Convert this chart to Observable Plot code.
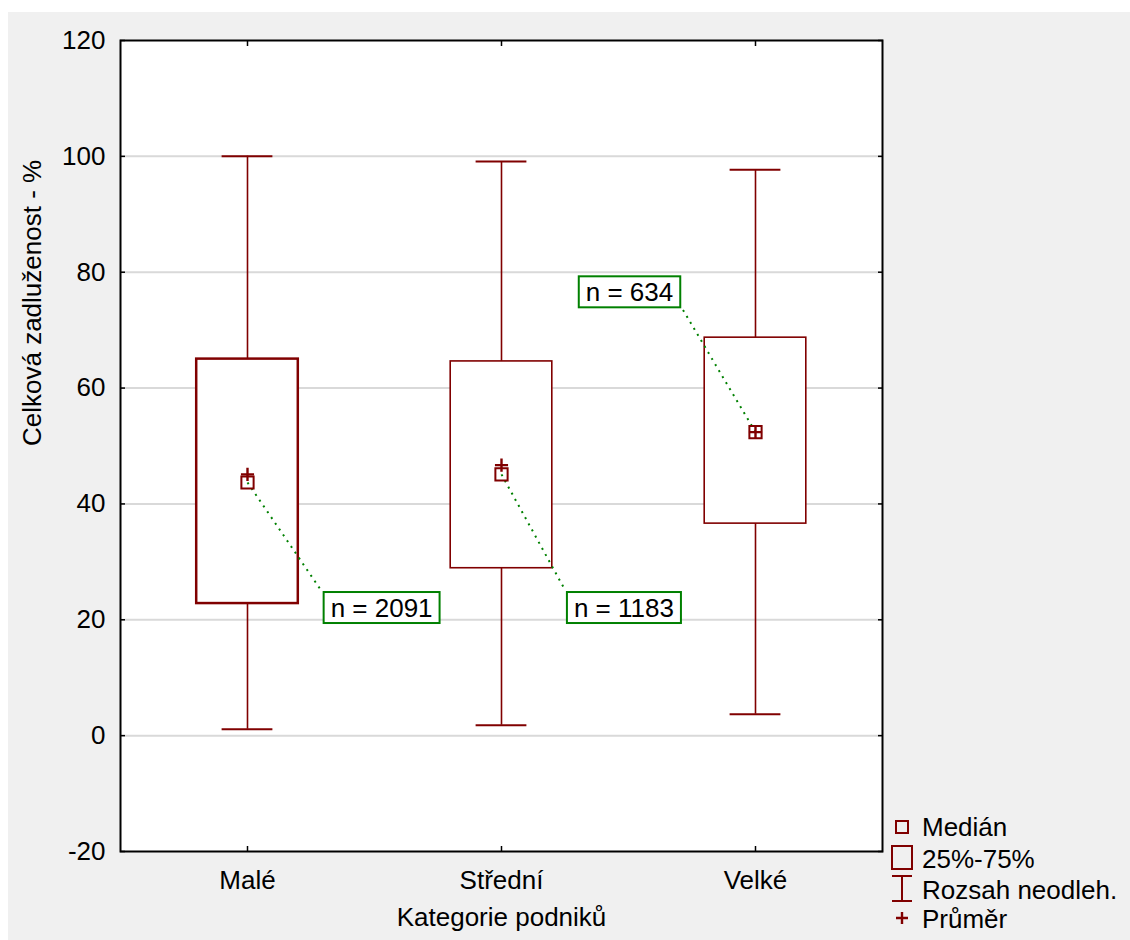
<!DOCTYPE html>
<html>
<head>
<meta charset="utf-8">
<script src="https://cdn.jsdelivr.net/npm/d3@7"></script>
<script src="https://cdn.jsdelivr.net/npm/@observablehq/plot@0.6"></script>
<style>
  body { margin: 0; background: #ffffff; font-family: Arial, "Liberation Sans", sans-serif; }
  #wrap { position: absolute; left: 8px; top: 12px; width: 1122px; height: 928px; background: #f0f0f0; }
  .lg { position: absolute; font-size: 26px; line-height: 30px; color: #000; white-space: nowrap; }
  .lgi { position: absolute; }
</style>
</head>
<body>
<div id="wrap"><div id="chart"></div></div>
<div id="legend"></div>
<script>
// ---- data ----
const categories  = ["Malé", "Střední", "Velké"];
const whiskerLow  = [1.1, 1.8, 3.7];
const quart25     = [22.8, 28.9, 36.6];
const medians     = [43.7, 45.1, 52.4];
const means       = [45.1, 46.7, 52.4];
const quart75     = [65.0, 64.6, 68.7];
const whiskerHigh = [100, 99.1, 97.7];
const counts      = [2091, 1183, 634];
const yTicks      = [-20, 0, 20, 40, 60, 80, 100, 120];
const gridValues  = [0, 20, 40, 60, 80, 100];
const legendItems = ["Medián", "25%-75%", "Rozsah neodleh.", "Průměr"];
const yTitle = "Celková zadluženost - %";
const xTitle = "Kategorie podniků";

// annotation placement (category index units / data units)
const noteX     = [0.528, 1.482, 1.504];
const noteY     = [22.0, 22.0, 76.5];
const leaderX   = [0.291, 1.252, 1.709];
const leaderY   = [25.0, 25.0, 73.9];

const RED = "#800000", GREEN = "#008000";

const rows = categories.map((c, i) => ({
  i, cat: c, lo: whiskerLow[i], q1: quart25[i], med: medians[i], mean: means[i],
  q3: quart75[i], hi: whiskerHigh[i], n: counts[i],
  tx: noteX[i], ty: noteY[i], lx: leaderX[i], ly: leaderY[i]
}));

const plusSymbol = {
  draw(ctx, size) {
    const h = Math.sqrt(size) / 2;
    ctx.moveTo(-h, 0); ctx.lineTo(h, 0);
    ctx.moveTo(0, -h); ctx.lineTo(0, h);
  }
};

const boxHalf = 0.2, capHalf = 0.1;
const idx = categories.map((c, i) => i);

const chart = Plot.plot({
  width: 1122, height: 928,
  marginLeft: 112, marginTop: 28, marginRight: 248, marginBottom: 89,
  style: { background: "transparent", fontFamily: "Arial, 'Liberation Sans', sans-serif", fontSize: "26px", color: "#000" },
  x: { type: "linear", domain: [-0.5, 2.5] },
  y: { domain: [-20, 120] },
  marks: [
    Plot.frame({ fill: "white", stroke: "none" }),
    Plot.ruleY(gridValues, { stroke: "#d9d9d9", strokeWidth: 2 }),
    // whiskers
    Plot.ruleX(rows, { x: "i", y1: "lo", y2: "hi", stroke: RED, strokeWidth: 1.6 }),
    Plot.ruleY(rows, { y: "lo", x1: d => d.i - capHalf, x2: d => d.i + capHalf, stroke: RED, strokeWidth: 2 }),
    Plot.ruleY(rows, { y: "hi", x1: d => d.i - capHalf, x2: d => d.i + capHalf, stroke: RED, strokeWidth: 2 }),
    // boxes
    Plot.rect(rows, { x1: d => d.i - boxHalf, x2: d => d.i + boxHalf, y1: "q1", y2: "q3",
      fill: "white", stroke: RED, strokeWidth: d => d.i === 0 ? 2.5 : 1.6 }),
    // leaders
    Plot.link(rows, { x1: "i", y1: "med", x2: "lx", y2: "ly", stroke: GREEN, strokeWidth: 2, strokeDasharray: "2,5" }),
    // median squares
    Plot.dot(rows, { x: "i", y: "med", symbol: "square", r: 6.9, fill: "none", stroke: RED, strokeWidth: 2 }),
    // means
    Plot.dot(rows, { x: "i", y: "mean", symbol: plusSymbol, r: 7.4, fill: "none", stroke: RED, strokeWidth: 2.4 }),
    // n labels
    Plot.text(rows, { x: "tx", y: "ty", text: d => `n = ${d.n}`, fill: "black", fontSize: 26 }),
    // axes
    Plot.axisY(yTicks, { anchor: "left", tickSize: 0, tickPadding: 15, label: null, tickFormat: d => String(d) }),
    Plot.axisY(yTicks, { anchor: "left", tickSize: -5, tickFormat: () => "", label: null, strokeWidth: 1.5 }),
    Plot.axisY(yTicks, { anchor: "right", tickSize: -5, tickFormat: () => "", label: null, strokeWidth: 1.5 }),
    Plot.axisX(idx, { anchor: "top", tickSize: -5, tickFormat: () => "", label: null, strokeWidth: 1.5 }),
    Plot.axisX(idx, { anchor: "bottom", tickSize: -5, tickFormat: () => "", label: null, strokeWidth: 1.5 }),
    Plot.axisX(idx, { anchor: "bottom", tickSize: 0, tickPadding: 19, tickFormat: i => categories[i], label: null }),
    Plot.text([yTitle], { text: d => d, frameAnchor: "left", dx: -88, rotate: -90, fontSize: 26, fill: "black" }),
    Plot.text([xTitle], { text: d => d, frameAnchor: "bottom", dy: 74, fontSize: 26, fill: "black" }),
    Plot.frame({ stroke: "black", strokeWidth: 2 })
  ]
});
document.getElementById("chart").appendChild(chart);

// boxes behind n labels
chart.querySelectorAll("text").forEach(t => {
  if (!t.textContent.startsWith("n = ")) return;
  const b = t.getBBox();
  const r = document.createElementNS("http://www.w3.org/2000/svg", "rect");
  r.setAttribute("x", b.x - 7);
  r.setAttribute("y", b.y - 0.5);
  r.setAttribute("width", b.width + 14);
  r.setAttribute("height", b.height + 1);
  r.setAttribute("fill", "white");
  r.setAttribute("stroke", GREEN);
  r.setAttribute("stroke-width", 2);
  if (t.getAttribute("transform")) r.setAttribute("transform", t.getAttribute("transform"));
  t.parentNode.insertBefore(r, t);
});

// legend
const legend = document.getElementById("legend");
const icons = [
  `<svg class="lgi" style="left:895px;top:820px" width="14" height="14"><rect x="1" y="1" width="12" height="12" fill="none" stroke="${RED}" stroke-width="2"/></svg>`,
  `<svg class="lgi" style="left:891px;top:845px" width="22" height="25"><rect x="1" y="1" width="20" height="23" fill="none" stroke="${RED}" stroke-width="2"/></svg>`,
  `<svg class="lgi" style="left:891px;top:875px" width="22" height="27"><path d="M1,1H21M11,1V26M1,26H21" fill="none" stroke="${RED}" stroke-width="2"/></svg>`,
  `<svg class="lgi" style="left:895px;top:911px" width="14" height="14"><path d="M1,7H13M7,1V13" fill="none" stroke="${RED}" stroke-width="2.4"/></svg>`
];
const tops = [812, 844, 874.5, 904];
legend.innerHTML = icons.join("") + legendItems.map((s, k) =>
  `<div class="lg" style="left:922px;top:${tops[k]}px">${s}</div>`).join("");
</script>
</body>
</html>
